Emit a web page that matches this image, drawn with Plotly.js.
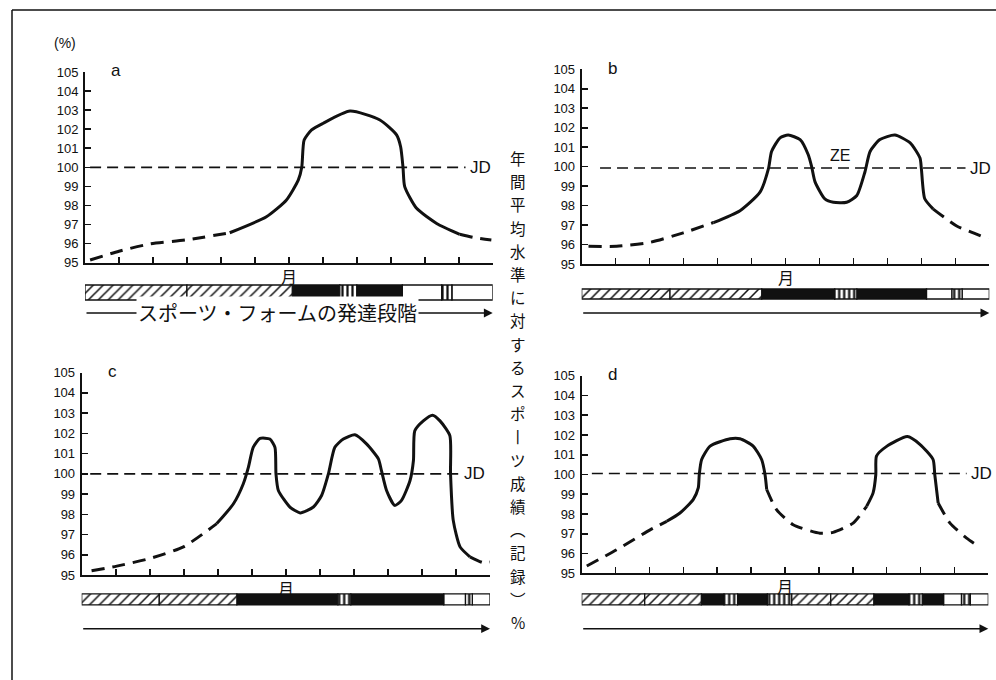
<!DOCTYPE html>
<html>
<head>
<meta charset="utf-8">
<script src="https://cdn.plot.ly/plotly-3.0.1.min.js"></script>
<style>html,body{margin:0;padding:0;background:#fff}#chart{width:996px;height:680px}</style>
</head>
<body>
<div id="chart"></div>
<script>
// ---------- data (x = month index 0..12, y = % of yearly mean) ----------
const yTicks = [95, 96, 97, 98, 99, 100, 101, 102, 103, 104, 105];
const monthTicks = [0,1,2,3,4,5,6,7,8,9,10,11,12];

// panel a
const aLeadX = [0.15, 1.0, 1.9, 3.0, 4.26];
const aLeadY = [95.14, 95.6, 95.98, 96.2, 96.57];
const aMainX = [4.26, 5.34, 5.93, 6.28, 6.38, 6.45, 6.67, 7.0, 7.8, 8.68, 9.17, 9.29, 9.36, 9.41, 9.76, 10.35, 11.03];
const aMainY = [96.57, 97.41, 98.29, 99.34, 100, 101.43, 101.96, 102.3, 102.95, 102.48, 101.7, 101.08, 100, 98.99, 97.85, 97.06, 96.49];
const aTailX = [11.03, 11.5, 11.96];
const aTailY = [96.49, 96.3, 96.19];

// panel b
const bLeadX = [0.2, 1.03, 2.01, 2.99, 3.88];
const bLeadY = [95.91, 95.91, 96.11, 96.6, 97.13];
const bMainX = [3.88, 4.66, 5.25, 5.5, 5.59, 5.84, 6.08, 6.43, 6.67, 6.77, 6.87, 7.16, 7.41, 7.8, 8.1, 8.34, 8.49, 8.78, 9.22, 9.67, 9.96, 10.0, 10.1, 10.35];
const bMainY = [97.13, 97.74, 98.69, 99.91, 100.78, 101.48, 101.62, 101.39, 100.61, 100, 99.22, 98.34, 98.17, 98.17, 98.52, 99.74, 100.78, 101.39, 101.62, 101.22, 100.44, 99.9, 98.35, 97.82];
const bTailX = [10.35, 11.04, 11.53, 11.97];
const bTailY = [97.82, 96.95, 96.6, 96.29];

// panel c
const cLeadX = [0.29, 1.03, 2.01, 2.99, 3.97];
const cLeadY = [95.21, 95.44, 95.82, 96.39, 97.54];
const cMainX = [3.97, 4.46, 4.75, 4.9, 5.04, 5.24, 5.53, 5.68, 5.71, 5.78, 6.12, 6.42, 6.81, 7.05, 7.25, 7.44, 7.69, 8.03, 8.37, 8.72, 8.81, 8.96, 9.2, 9.4, 9.65, 9.75, 9.79, 10.04, 10.31, 10.53, 10.82, 10.84, 10.92, 11.12, 11.41];
const cMainY = [97.54, 98.52, 99.51, 100.33, 101.31, 101.75, 101.72, 101.31, 100, 99.18, 98.36, 98.07, 98.36, 98.93, 100, 101.31, 101.72, 101.93, 101.48, 100.74, 100.16, 99.18, 98.44, 98.69, 99.67, 100.66, 102.13, 102.62, 102.9, 102.62, 101.89, 100, 97.7, 96.39, 95.9];
const cTailX = [11.41, 11.8, 12.0];
const cTailY = [95.9, 95.61, 95.64];

// panel d
const dLeadX = [0.15, 1.03, 2.02, 2.51];
const dLeadY = [95.37, 96.19, 97.2, 97.63];
const dMain1X = [2.51, 2.9, 3.29, 3.44, 3.47, 3.54, 3.79, 4.38, 4.67, 5.06, 5.31, 5.41, 5.46];
const dMain1Y = [97.63, 98.05, 98.73, 99.32, 100, 100.76, 101.44, 101.81, 101.81, 101.44, 100.76, 100, 99.24];
const dMidX = [5.46, 5.75, 6.24, 7.03, 7.42, 8.01, 8.41];
const dMidY = [99.24, 98.22, 97.46, 97.03, 97.07, 97.54, 98.39];
const dMain2X = [8.41, 8.6, 8.68, 8.7, 8.99, 9.61, 9.98, 10.37, 10.42, 10.52];
const dMain2Y = [98.39, 99.07, 100, 100.93, 101.41, 101.92, 101.53, 100.76, 100, 98.56];
const dTailX = [10.52, 10.87, 11.36, 11.65];
const dTailY = [98.56, 97.54, 96.78, 96.44];

// yearly mean (JD) reference lines: [start, end] and level
const jdX = [[0.15, 11.2], [0.54, 11.3], [0.25, 11.12], [0.3, 11.36]];
const jdY = [100, 99.93, 100, 100.05];

// phase bars: start, end, kind (h = hatched, k = black, s = striped, w = white)
const aBarStart = [0, 3.0, 6.1, 7.5, 8.0, 9.34, 10.5, 10.8];
const aBarEnd   = [3.0, 6.1, 7.5, 8.0, 9.34, 10.5, 10.8, 12];
const aBarKind  = ['h','h','k','s','k','w','s','w'];
const bBarStart = [0, 2.6, 5.3, 7.45, 8.1, 10.15, 10.9, 11.2];
const bBarEnd   = [2.6, 5.3, 7.45, 8.1, 10.15, 10.9, 11.2, 12];
const bBarKind  = ['h','h','k','s','k','w','s','w'];
const cBarStart = [0, 2.28, 4.56, 7.53, 7.91, 10.64, 11.28, 11.48];
const cBarEnd   = [2.28, 4.56, 7.53, 7.91, 10.64, 11.28, 11.48, 12];
const cBarKind  = ['h','h','k','s','k','w','s','w'];
const dBarStart = [0, 1.86, 3.53, 4.2, 4.6, 5.48, 6.2, 7.35, 8.62, 9.66, 10.05, 10.68, 11.21, 11.47];
const dBarEnd   = [1.86, 3.53, 4.2, 4.6, 5.48, 6.2, 7.35, 8.62, 9.66, 10.05, 10.68, 11.21, 11.47, 12];
const dBarKind  = ['h','h','k','s','k','s','h','h','k','s','k','w','s','w'];

const panelLetters = ['a', 'b', 'c', 'd'];
const jdLabel = 'JD';
const zeLabel = 'ZE';
const monthLabel = '月';
const pctLabel = '(%)';
const phaseLabel = 'スポーツ・フォームの発達段階';
const verticalTitle = ['年','間','平','均','水','準','に','対','す','る','ス','ポ','丨','ツ','成','績','︵','記','録','︶','%'];

// ---------- figure ----------
const W = 996, H = 680;
const px = v => v / W;
const py = v => 1 - v / H;
const CJK = '"Noto Sans CJK JP", "Noto Sans", sans-serif';
const NUM = '"Liberation Sans Narrow", "Liberation Sans", Arial, sans-serif';
const SANS = '"Liberation Sans", Arial, sans-serif';

const traces = [];
const axisIds = [['x','y'], ['x2','y2'], ['x3','y3'], ['x4','y4']];
const barY = ['y5','y6','y7','y8'];

function line(x, y, ax, dashed) {
  traces.push({
    type: 'scatter', mode: 'lines', x: x, y: y,
    xaxis: ax[0], yaxis: ax[1], hoverinfo: 'skip', showlegend: false,
    line: {color: '#111', width: 3, shape: 'spline', smoothing: 0.6, dash: dashed ? '13px,8px' : 'solid'}
  });
}
const curves = [
  [[aLeadX,aLeadY,1],[aMainX,aMainY,0],[aTailX,aTailY,1]],
  [[bLeadX,bLeadY,1],[bMainX,bMainY,0],[bTailX,bTailY,1]],
  [[cLeadX,cLeadY,1],[cMainX,cMainY,0],[cTailX,cTailY,1]],
  [[dLeadX,dLeadY,1],[dMain1X,dMain1Y,0],[dMidX,dMidY,1],[dMain2X,dMain2Y,0],[dTailX,dTailY,1]]
];
curves.forEach((segs, i) => {
  traces.push({
    type: 'scatter', mode: 'lines', x: jdX[i], y: [jdY[i], jdY[i]],
    xaxis: axisIds[i][0], yaxis: axisIds[i][1], hoverinfo: 'skip', showlegend: false,
    line: {color: '#111', width: 1.6, dash: '11px,6px'}
  });
  segs.forEach(s => line(s[0], s[1], axisIds[i], s[2]));
});

// one bar trace per segment kind, scalar styling
const kindStyle = {
  h: {color: '#fff', pattern: {shape: '/', size: 7, solidity: 0.22, fgcolor: '#111', bgcolor: '#fff'}},
  k: {color: '#111'},
  s: {color: '#fff', pattern: {shape: '|', size: 5, solidity: 0.45, fgcolor: '#111', bgcolor: '#fff'}},
  w: {color: '#fff'}
};
const bars = [[aBarStart,aBarEnd,aBarKind],[bBarStart,bBarEnd,bBarKind],[cBarStart,cBarEnd,cBarKind],[dBarStart,dBarEnd,dBarKind]];
bars.forEach((b, i) => {
  ['w','k','s','h'].forEach(kind => {
    const idx = b[2].map((k, j) => k === kind ? j : -1).filter(j => j >= 0);
    if (!idx.length) return;
    const st = kindStyle[kind];
    const marker = {color: st.color, line: {color: '#111', width: 1.3}};
    if (st.pattern) marker.pattern = st.pattern;
    traces.push({
      type: 'bar', orientation: 'h',
      base: idx.map(j => b[0][j]), x: idx.map(j => b[1][j] - b[0][j]), y: idx.map(() => 0), width: 1,
      xaxis: axisIds[i][0], yaxis: barY[i], hoverinfo: 'skip', showlegend: false, cliponaxis: false,
      marker: marker
    });
  });
});

// panel geometry in pixels
const geo = [
  {x0: 85, x1: 492.7, y95: 262.7, y105: 72, bar: [283.5, 301.5]},
  {x0: 581.7, x1: 989.3, y95: 264, y105: 69.3, bar: [288, 300]},
  {x0: 81.7, x1: 490, y95: 575, y105: 372.7, bar: [592.8, 606]},
  {x0: 581.7, x1: 988.3, y95: 573.3, y105: 375.7, bar: [592.8, 606]}
];

const layout = {
  width: W, height: H, margin: {l: 0, r: 0, t: 0, b: 0},
  paper_bgcolor: '#fff', plot_bgcolor: 'rgba(0,0,0,0)',
  showlegend: false, barmode: 'overlay',
  font: {family: SANS, color: '#111'},
  shapes: [
    {type: 'line', xref: 'paper', yref: 'paper', x0: px(12), x1: 1, y0: py(10), y1: py(10), line: {color: '#111', width: 1.5}},
    {type: 'line', xref: 'paper', yref: 'paper', x0: px(12), x1: px(12), y0: py(10), y1: 0, line: {color: '#111', width: 1.5}}
  ],
  annotations: []
};

geo.forEach((g, i) => {
  const xs = i === 0 ? '' : String(i + 1);
  layout['xaxis' + xs] = {
    domain: [px(g.x0), px(g.x1)], range: [0, 12], anchor: 'y' + xs,
    showline: true, linecolor: '#111', linewidth: 2, showgrid: false, zeroline: false,
    ticks: 'inside', ticklen: 6, tickwidth: 1.6, tickcolor: '#111',
    tickmode: 'array', tickvals: monthTicks, showticklabels: false, fixedrange: true
  };
  layout['yaxis' + xs] = {
    domain: [py(g.y95), py(g.y105)], range: [95, 105], anchor: 'x' + xs,
    showline: true, linecolor: '#111', linewidth: 2, showgrid: false, zeroline: false,
    ticks: 'inside', ticklen: 6, tickwidth: 1.6, tickcolor: '#111',
    tickmode: 'array', tickvals: yTicks, ticktext: yTicks.map(String),
    tickfont: {family: NUM, size: 13, color: '#111'}, ticklabelstandoff: 2, fixedrange: true
  };
  layout['yaxis' + (i + 5)] = {
    domain: [py(g.bar[1]), py(g.bar[0])], range: [-0.6, 0.6], anchor: 'x' + xs,
    visible: false, fixedrange: true
  };
  const xr = 'x' + xs, yr = 'y' + xs;
  layout.annotations.push({xref: 'paper', yref: 'paper', x: px(g.x0 + 31), y: py(g.y105 - 1), text: panelLetters[i],
    showarrow: false, font: {family: SANS, size: 17}, xanchor: 'center', yanchor: 'middle'});
  layout.annotations.push({xref: xr, yref: yr, x: jdX[i][1] + 0.07, y: jdY[i], text: jdLabel, showarrow: false,
    xanchor: 'left', yanchor: 'middle', font: {family: SANS, size: 17}});
  layout.annotations.push({xref: xr, yref: 'paper', x: 6, y: py(g.y95 + 13), text: monthLabel, showarrow: false,
    xanchor: 'center', yanchor: 'middle', font: {family: CJK, size: 16}});
  const ay = i < 2 ? 313 : 628.7;
  layout.annotations.push({xref: xr, yref: 'paper', axref: xr, ayref: 'pixel', x: 12, ax: 0, y: py(ay), ay: 0,
    text: '', showarrow: true, arrowhead: 2, arrowsize: 1.1, arrowwidth: 1.6, arrowcolor: '#111', standoff: 0, startstandoff: 0});
});

layout.annotations.push({xref: 'x2', yref: 'y2', x: 7.6, y: 100.55, text: zeLabel, showarrow: false,
  xanchor: 'center', yanchor: 'middle', font: {family: SANS, size: 16}});
layout.annotations.push({xref: 'paper', yref: 'paper', x: px(65), y: py(43), text: pctLabel, showarrow: false,
  xanchor: 'center', yanchor: 'middle', font: {family: SANS, size: 14}});
layout.annotations.push({xref: 'paper', yref: 'paper', x: px(277.5), y: py(313), text: phaseLabel, showarrow: false,
  xanchor: 'center', yanchor: 'middle', bgcolor: '#fff', borderpad: 1, font: {family: CJK, size: 20}});
// vertical title: one character per line, stacked downward
const vTop = 158, vStep = 23.2;
verticalTitle.forEach((ch, k) => {
  layout.annotations.push({xref: 'paper', yref: 'paper', x: px(518), y: py(vTop + k * vStep), text: ch, showarrow: false,
    xanchor: 'center', yanchor: 'middle', borderpad: 0, font: {family: CJK, size: 15.5}});
});

Plotly.newPlot('chart', traces, layout, {staticPlot: true, displayModeBar: false});
</script>
</body>
</html>
